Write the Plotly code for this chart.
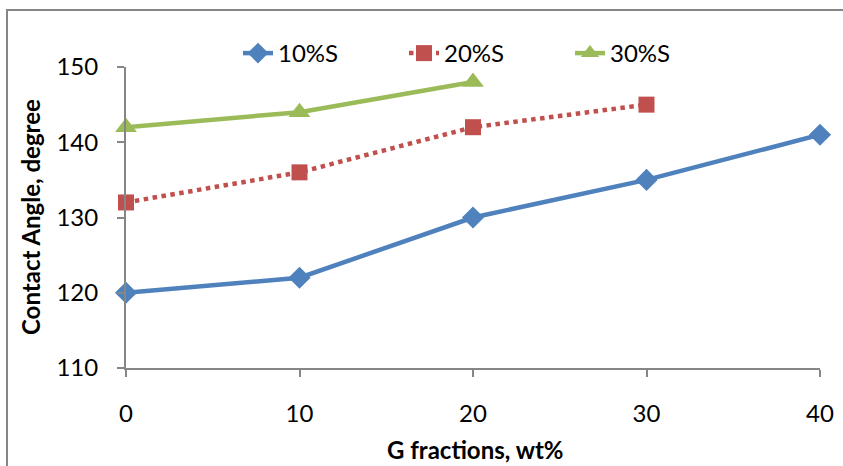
import plotly.graph_objects as go

x_vals = [0, 10, 20, 30, 40]
s10 = [120, 122, 130, 135, 141]
s20 = [132, 136, 142, 145]
s30 = [142, 144, 148]
series_names = ["10%S", "20%S", "30%S"]
x_ticks = [0, 10, 20, 30, 40]
y_ticks = [110, 120, 130, 140, 150]

W, H = 843, 466
L, R, T, B = 126, 23, 67, 98
pw, ph = W - L - R, H - T - B

def px2x(p):
    return (p - L) / pw

def px2y(p):
    return (H - B - p) / ph

FONT = "Lato"
AX = "#868686"
FS = 24

fig = go.Figure()
fig.add_trace(go.Scatter(
    x=x_vals[:len(s10)], y=s10, name=series_names[0], mode="lines+markers",
    line=dict(color="#4F81BD", width=4.5),
    marker=dict(symbol="diamond", size=17, color="#4F81BD"),
    cliponaxis=False))
fig.add_trace(go.Scatter(
    x=x_vals[:len(s20)], y=s20, name=series_names[1], mode="lines+markers",
    line=dict(color="#C0504D", width=4.5, dash="dot"),
    marker=dict(symbol="square", size=16, color="#C0504D"),
    cliponaxis=False))
fig.add_trace(go.Scatter(
    x=x_vals[:len(s30)], y=s30, name=series_names[2], mode="lines+markers",
    line=dict(color="#9BBB59", width=4.5),
    marker=dict(symbol="triangle-up", size=19, color="#9BBB59"),
    cliponaxis=False))

fig.update_layout(
    width=W, height=H,
    margin=dict(l=L, r=R, t=T, b=B, autoexpand=False),
    paper_bgcolor="white", plot_bgcolor="white",
    font=dict(family=FONT, size=FS, color="black"),
    showlegend=True,
    legend=dict(orientation="h", x=px2x(238), y=px2y(31), xanchor="left", yanchor="top",
                font=dict(family=FONT, size=FS, color="black"),
                bgcolor="rgba(0,0,0,0)", entrywidth=121, tracegroupgap=0),
    xaxis=dict(range=[0, 40], tickvals=x_ticks, showgrid=False, zeroline=False,
               showline=True, linecolor=AX, linewidth=2, ticks="outside",
               ticklen=7, tickwidth=2, tickcolor=AX, ticklabelstandoff=16,
               automargin=False,
               tickfont=dict(family=FONT, size=FS, color="black")),
    yaxis=dict(range=[110, 150], tickvals=y_ticks, showgrid=False, zeroline=False,
               showline=True, linecolor=AX, linewidth=2, ticks="outside",
               ticklen=7, tickwidth=2, tickcolor=AX, ticklabelstandoff=14,
               automargin=False,
               tickfont=dict(family=FONT, size=FS, color="black")),
    annotations=[
        dict(text="<b>G fractions, wt%</b>", x=px2x(475), y=px2y(449), xref="paper", yref="paper",
             xanchor="center", yanchor="middle", showarrow=False,
             font=dict(family=FONT, size=FS, color="black")),
        dict(text="<b>Contact Angle, degree</b>", x=px2x(30), y=px2y(217), xref="paper", yref="paper",
             xanchor="center", yanchor="middle", showarrow=False, textangle=-90,
             font=dict(family=FONT, size=FS, color="black")),
    ],
    shapes=[
        dict(type="rect", xref="paper", yref="paper",
             x0=px2x(7), x1=px2x(900), y0=px2y(520), y1=px2y(10),
             line=dict(color=AX, width=2), fillcolor="rgba(0,0,0,0)", layer="below"),
    ],
)

fig.write_html("out.html")
